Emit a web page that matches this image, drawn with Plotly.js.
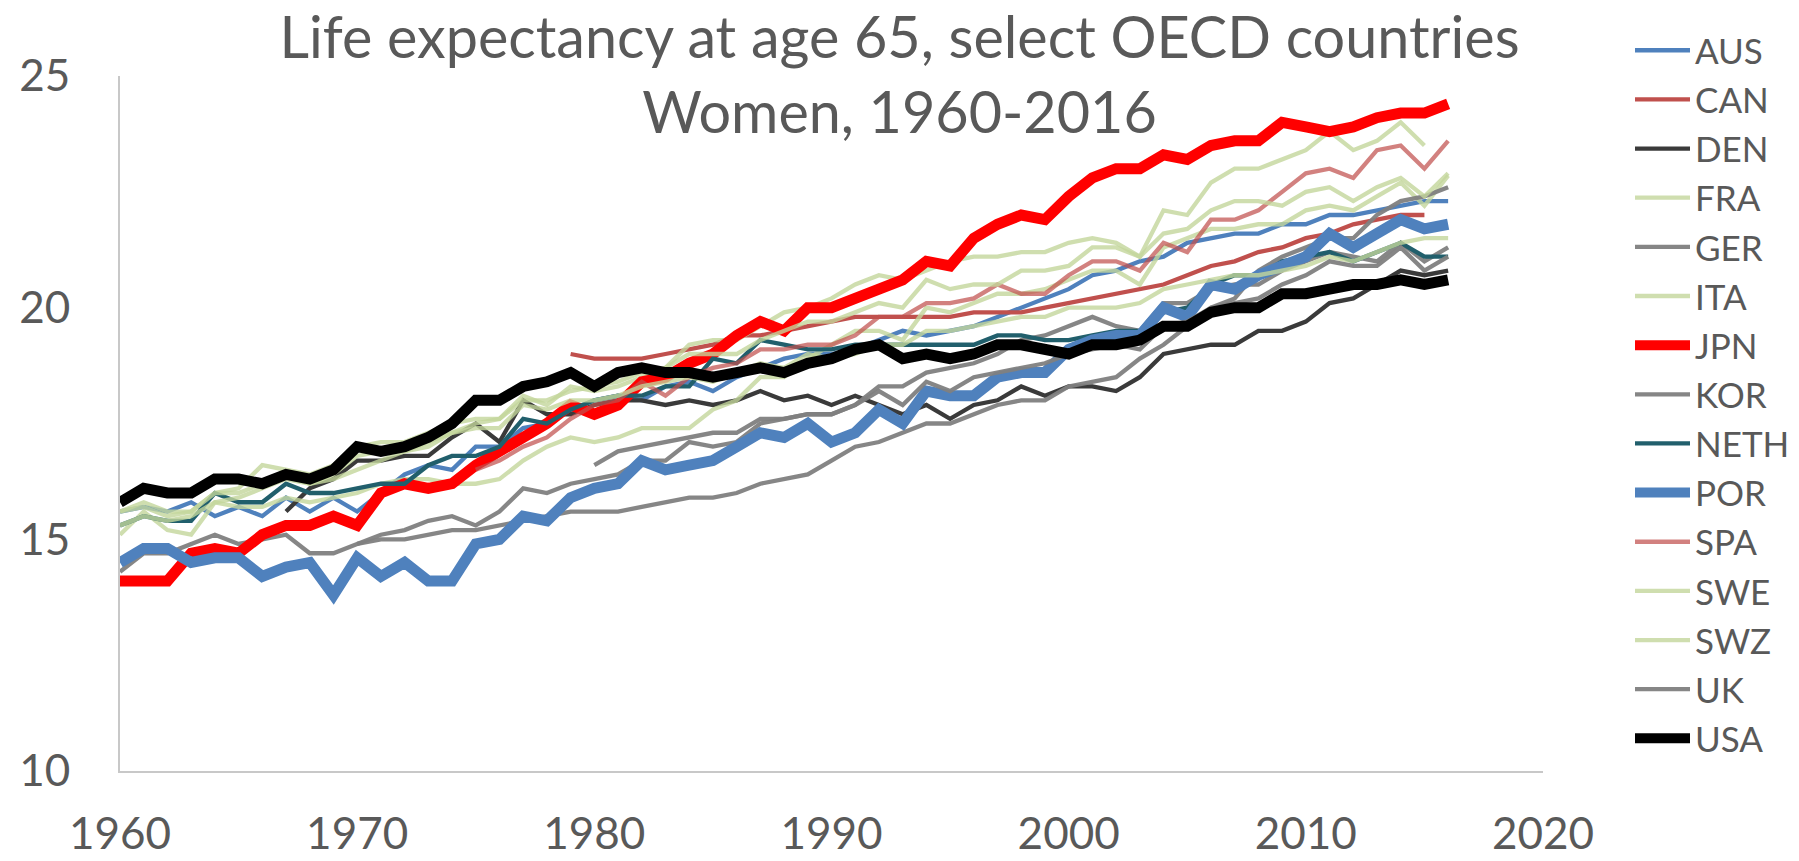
<!DOCTYPE html>
<html>
<head>
<meta charset="utf-8">
<script src="https://cdn.plot.ly/plotly-3.0.1.min.js"></script>
<style>
  html, body { margin: 0; padding: 0; background: #ffffff; }
  #chart { width: 1799px; height: 861px; }
</style>
</head>
<body>
<div id="chart"></div>
<script>
// ---- Data (women's life expectancy at age 65, years) ----
const years = [];
for (let y = 1960; y <= 2016; y++) years.push(y);

const countries = ["AUS","CAN","DEN","FRA","GER","ITA","JPN","KOR","NETH","POR","SPA","SWE","SWZ","UK","USA"];

const AUS = [15.6,15.7,15.6,15.8,15.5,15.7,15.5,15.9,15.6,15.9,
  15.6,16.0,16.4,16.6,16.5,17.0,17.0,17.4,17.5,17.8,
  18.0,18.1,18.0,18.3,18.4,18.2,18.5,18.7,18.9,19.0,
  19.0,19.1,19.3,19.5,19.4,19.5,19.6,19.8,20.0,20.2,
  20.4,20.7,20.8,21.0,21.1,21.4,21.5,21.6,21.6,21.8,
  21.8,22.0,22.0,22.1,22.2,22.3,22.3];

const CAN = [null,null,null,null,null,null,null,null,null,null,
  null,null,null,null,null,null,null,null,null,19.0,
  18.9,18.9,18.9,19.0,19.1,19.2,19.4,19.4,19.5,19.6,
  19.7,19.8,19.8,19.8,19.8,19.8,19.9,19.9,19.9,20.0,
  20.1,20.2,20.3,20.4,20.5,20.7,20.9,21.0,21.2,21.3,
  21.5,21.6,21.8,21.9,22.0,22.0,null];

const DEN = [null,null,null,null,null,null,null,15.6,16.1,16.3,
  16.7,16.7,16.8,16.8,17.2,17.5,17.1,18.0,17.7,17.7,
  17.9,18.0,18.0,17.9,18.0,17.9,18.0,18.2,18.0,18.1,
  17.9,18.1,17.9,17.7,17.9,17.6,17.9,18.0,18.3,18.1,
  18.3,18.3,18.2,18.5,19.0,19.1,19.2,19.2,19.5,19.5,
  19.7,20.1,20.2,20.5,20.8,20.7,20.8];

const FRA = [15.6,15.7,15.5,15.6,16.0,16.1,16.6,16.5,16.4,16.6,
  17.0,17.1,17.1,17.3,17.5,17.6,17.6,18.1,17.9,18.3,
  18.2,18.3,18.5,18.7,19.2,19.3,19.3,19.6,19.9,20.0,
  20.2,20.5,20.7,20.6,20.8,21.0,21.1,21.1,21.2,21.2,
  21.4,21.5,21.4,21.1,22.1,22.0,22.7,23.0,23.0,23.2,
  23.4,23.8,23.4,23.6,24.0,23.5,null];

const GER = [14.3,14.7,14.7,14.9,15.1,14.9,15.0,15.1,14.7,14.7,
  14.9,15.1,15.2,15.4,15.5,15.3,15.6,16.1,16.0,16.2,
  16.3,16.4,16.7,16.7,17.1,17.0,17.1,17.5,17.6,17.7,
  17.7,17.9,18.3,18.3,18.6,18.7,18.8,19.0,19.3,19.4,
  19.6,19.8,19.6,19.5,20.1,20.1,20.4,20.5,20.5,20.8,
  21.0,21.2,21.1,21.0,21.4,21.0,21.3];

const ITA = [15.1,15.6,15.2,15.1,15.8,15.7,15.7,15.9,15.8,15.9,
  16.0,16.2,16.3,16.3,16.2,16.2,16.3,16.7,17.0,17.2,
  17.1,17.2,17.4,17.4,17.4,17.8,18.0,18.5,18.5,18.9,
  19.2,19.5,19.5,19.3,20.0,19.9,20.1,20.3,20.3,20.4,
  20.6,20.8,20.8,20.5,21.3,21.5,21.7,21.7,21.8,21.8,
  22.1,22.2,22.1,22.4,22.7,22.2,22.85];

const JPN = [14.1,14.1,14.1,14.7,14.8,14.7,15.1,15.3,15.3,15.5,
  15.3,16.0,16.2,16.1,16.2,16.6,16.9,17.2,17.5,17.9,
  17.7,17.9,18.4,18.5,18.8,19.0,19.4,19.7,19.5,20.0,
  20.0,20.2,20.4,20.6,21.0,20.9,21.5,21.8,22.0,21.9,
  22.4,22.8,23.0,23.0,23.3,23.2,23.5,23.6,23.6,24.0,
  23.9,23.8,23.9,24.1,24.2,24.2,24.4];

const KOR = [null,null,null,null,null,null,null,null,null,null,
  14.9,15.0,15.0,15.1,15.2,15.2,15.3,15.4,15.5,15.6,
  15.6,15.6,15.7,15.8,15.9,15.9,16.0,16.2,16.3,16.4,
  16.7,17.0,17.1,17.3,17.5,17.5,17.7,17.9,18.0,18.0,
  18.3,18.4,18.5,18.9,19.2,19.6,20.0,20.2,20.8,21.1,
  21.3,21.5,21.5,22.0,22.3,22.4,22.6];

const NETH = [15.3,15.5,15.4,15.4,16.0,15.8,15.8,16.2,16.0,16.0,
  16.1,16.2,16.2,16.6,16.8,16.8,17.0,17.6,17.5,17.8,
  18.0,18.1,18.1,18.3,18.3,18.9,18.8,19.3,19.2,19.1,
  19.1,19.2,19.2,19.2,19.2,19.2,19.2,19.4,19.4,19.3,
  19.3,19.4,19.5,19.5,19.9,20.0,20.5,20.7,20.7,21.0,
  21.1,21.2,21.0,21.2,21.4,21.1,21.1];

const POR = [14.5,14.8,14.8,14.5,14.6,14.6,14.2,14.4,14.5,13.8,
  14.6,14.2,14.5,14.1,14.1,14.9,15.0,15.5,15.4,15.9,
  16.1,16.2,16.7,16.5,16.6,16.7,17.0,17.3,17.2,17.5,
  17.1,17.3,17.8,17.5,18.2,18.1,18.1,18.5,18.6,18.6,
  19.1,19.3,19.4,19.4,20.0,19.8,20.5,20.4,20.7,20.9,
  21.1,21.6,21.3,21.6,21.9,21.7,21.8];

const SPA = [null,null,null,null,null,null,null,null,null,null,
  null,null,null,null,null,16.5,16.7,17.0,17.2,17.6,
  17.9,18.0,18.4,18.1,18.5,18.7,18.8,19.1,19.1,19.2,
  19.2,19.4,19.8,19.8,20.1,20.1,20.2,20.5,20.3,20.3,
  20.7,21.0,21.0,20.8,21.4,21.2,21.9,21.9,22.1,22.5,
  22.9,23.0,22.8,23.4,23.5,23.0,23.6];

const SWE = [15.3,15.5,15.4,15.5,15.8,15.9,16.1,16.3,16.2,16.4,
  16.8,16.9,16.9,17.1,17.3,17.4,17.4,17.9,17.8,18.0,
  18.0,18.1,18.3,18.4,18.5,18.4,18.6,18.8,18.7,19.0,
  18.9,19.0,19.2,19.2,19.5,19.5,19.6,19.7,19.8,19.8,
  20.0,20.0,20.0,20.1,20.4,20.5,20.6,20.7,20.7,20.8,
  20.9,21.1,21.0,21.2,21.4,21.5,21.5];

const SWZ = [15.6,15.8,15.6,15.6,16.0,16.0,16.2,16.4,16.2,16.3,
  16.5,16.7,16.9,17.0,17.3,17.5,17.6,18.0,18.0,18.2,
  18.3,18.4,18.6,18.7,19.0,19.0,19.0,19.3,19.5,19.7,
  19.7,19.9,20.1,20.0,20.6,20.4,20.5,20.5,20.8,20.8,
  20.9,21.3,21.3,21.1,21.6,21.7,22.1,22.3,22.3,22.2,
  22.5,22.6,22.3,22.6,22.8,22.4,22.9];

const UK = [null,null,null,null,null,null,null,null,null,null,
  null,null,null,null,null,null,null,null,null,null,
  16.6,16.9,17.0,17.1,17.2,17.3,17.3,17.6,17.6,17.7,
  17.7,17.9,18.2,17.9,18.4,18.2,18.5,18.6,18.7,18.8,
  19.0,19.1,19.2,19.1,19.6,19.7,20.0,20.1,20.2,20.5,
  20.7,21.0,20.9,20.9,21.3,20.8,21.1];

const USA = [15.8,16.1,16.0,16.0,16.3,16.3,16.2,16.4,16.3,16.5,
  17.0,16.9,17.0,17.2,17.5,18.0,18.0,18.3,18.4,18.6,
  18.3,18.6,18.7,18.6,18.6,18.5,18.6,18.7,18.6,18.8,
  18.9,19.1,19.2,18.9,19.0,18.9,19.0,19.2,19.2,19.1,
  19.0,19.2,19.2,19.3,19.6,19.6,19.9,20.0,20.0,20.3,
  20.3,20.4,20.5,20.5,20.6,20.5,20.6];

const xTicks = [1960, 1970, 1980, 1990, 2000, 2010, 2020];
const yTicks = [10, 15, 20, 25];

// ---- Styles ----
const seriesValues = {AUS, CAN, DEN, FRA, GER, ITA, JPN, KOR, NETH, POR, SPA, SWE, SWZ, UK, USA};
const GREEN = "rgba(195,214,155,0.8)";
const GRAY = "rgba(128,128,128,0.95)";
const THIN = 4.3;
const THICK = 11;
const styles = {
  AUS:  {color: "#4F81BD", width: THIN},
  CAN:  {color: "#C0504D", width: THIN},
  DEN:  {color: "#3A3A3A", width: THIN},
  FRA:  {color: GREEN, width: THIN},
  GER:  {color: GRAY, width: THIN},
  ITA:  {color: GREEN, width: THIN},
  JPN:  {color: "#FF0000", width: THICK},
  KOR:  {color: GRAY, width: THIN},
  NETH: {color: "#215F6C", width: THIN},
  POR:  {color: "#4F81BD", width: THICK},
  SPA:  {color: "rgba(192,80,77,0.72)", width: THIN},
  SWE:  {color: GREEN, width: THIN},
  SWZ:  {color: GREEN, width: THIN},
  UK:   {color: GRAY, width: THIN},
  USA:  {color: "#000000", width: THICK}
};

const traces = countries.map(c => ({
  type: "scatter",
  mode: "lines",
  name: c,
  legendgroup: c,
  x: years,
  y: seriesValues[c],
  connectgaps: false,
  line: {color: styles[c].color, width: styles[c].width, shape: "linear"},
  hoverinfo: "x+y+name"
}));

const FONT = "Lato, 'Open Sans', sans-serif";
const TXT = "#595959";

const layout = {
  width: 1799,
  height: 861,
  paper_bgcolor: "#ffffff",
  plot_bgcolor: "#ffffff",
  margin: {l: 120, r: 256, t: 76, b: 90, pad: 0},
  font: {family: FONT, color: TXT},
  title: {
    text: "Life expectancy at age 65, select OECD countries<br>Women, 1960-2016",
    font: {family: FONT, size: 57.5, color: TXT},
    x: 0.5, xref: "container", xanchor: "center",
    y: 1 - 58 / 861, yref: "container", yanchor: "top"
  },
  xaxis: {
    range: [1960, 2020],
    tickvals: xTicks,
    ticktext: xTicks.map(String),
    showgrid: false,
    zeroline: false,
    showline: true,
    linecolor: "#C8C8C8",
    linewidth: 2,
    ticks: "",
    ticklabelstandoff: 23,
    tickfont: {family: FONT, size: 44, color: TXT}
  },
  yaxis: {
    range: [10, 25],
    tickvals: yTicks,
    ticktext: yTicks.map(String),
    showgrid: false,
    zeroline: false,
    showline: true,
    linecolor: "#C8C8C8",
    linewidth: 2,
    ticks: "",
    ticklabelstandoff: 39,
    tickfont: {family: FONT, size: 44, color: TXT}
  },
  showlegend: true,
  legend: {
    xref: "container", yref: "container",
    x: 1630 / 1799, xanchor: "left",
    y: 1 - 21 / 861, yanchor: "top",
    maxheight: 850,
    font: {family: FONT, size: 35, color: TXT},
    itemwidth: 55,
    bgcolor: "rgba(0,0,0,0)",
    borderwidth: 0,
    tracegroupgap: 0.65
  }
};

Plotly.newPlot("chart", traces, layout, {displayModeBar: false, responsive: false});
</script>
</body>
</html>
